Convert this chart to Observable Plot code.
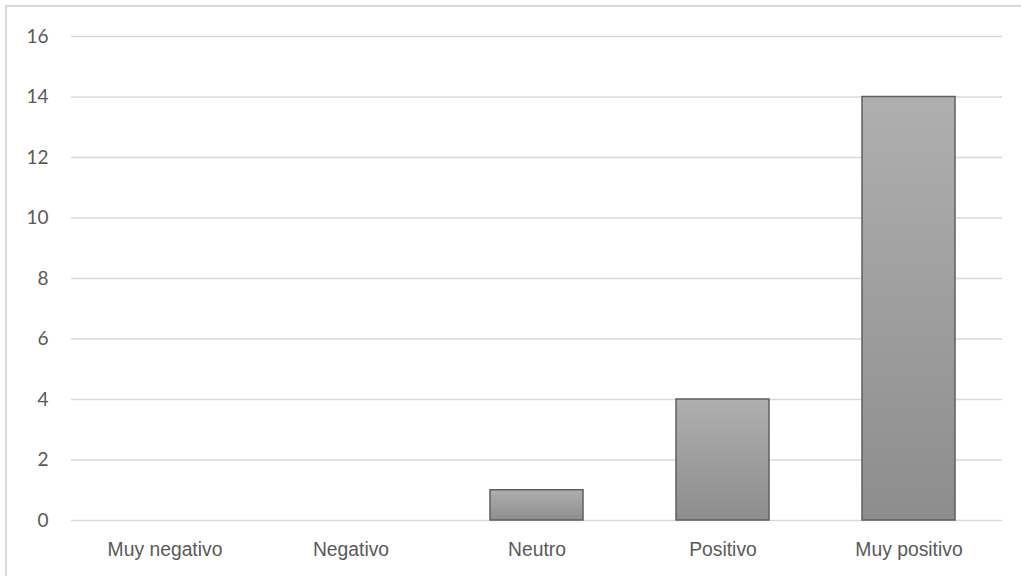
<!DOCTYPE html>
<html>
<head>
<meta charset="utf-8">
<script src="https://cdn.jsdelivr.net/npm/d3@7"></script>
<script src="https://cdn.jsdelivr.net/npm/@observablehq/plot@0.6"></script>
<style>
  html, body { margin: 0; padding: 0; background: #fff; overflow: hidden; }
  #wrap { position: relative; width: 1021px; height: 576px; }
  #frame {
    position: absolute; left: 5px; top: 5px; width: 1040px; height: 600px;
    border: 2px solid #d9d9d9; pointer-events: none; box-sizing: border-box;
  }
  #chart svg { display: block; }
  g[aria-label="x-axis tick label"] { font-family: "Liberation Sans", Arial, sans-serif; font-size: 21px; }
  g[aria-label="y-axis tick label"] { font-family: Lato, "Open Sans", sans-serif; font-size: 19px; }
</style>
</head>
<body>
<div id="wrap">
  <div id="chart"></div>
  <div id="frame"></div>
</div>
<script>
// Response counts per rating category
const categories = ["Muy negativo", "Negativo", "Neutro", "Positivo", "Muy positivo"];
const counts = [0, 0, 1, 4, 14];
const yTicks = [0, 2, 4, 6, 8, 10, 12, 14, 16];

const rows = categories.map((c, i) => ({category: c, count: counts[i]}));

// Vertical gradient used for the bar fill (lighter at the top)
const gradientDefs = () => {
  const defs = d3.create("svg:defs");
  const g = defs.append("linearGradient")
    .attr("id", "barGradient")
    .attr("x1", 0).attr("y1", 0).attr("x2", 0).attr("y2", 1);
  g.append("stop").attr("offset", "0%").attr("stop-color", "#afafaf");
  g.append("stop").attr("offset", "100%").attr("stop-color", "#8d8d8d");
  return defs.node();
};

const chart = Plot.plot({
  width: 1021,
  height: 576,
  marginLeft: 71,
  marginRight: 19,
  marginTop: 36,
  marginBottom: 56,
  x: {domain: categories, paddingInner: 0.5, paddingOuter: 0.25, label: null},
  y: {domain: [0, 16], label: null},
  marks: [
    gradientDefs,
    Plot.gridY(yTicks, {stroke: "#d9d9d9", strokeOpacity: 1, strokeWidth: 1.5}),
    Plot.barY(rows, {
      filter: d => d.count > 0,
      x: "category",
      y: "count",
      fill: "url(#barGradient)",
      stroke: "#5f5f5f",
      strokeWidth: 1.5
    }),
    Plot.axisY({
      ticks: yTicks,
      tickSize: 0,
      tickPadding: 23,
      fontSize: 19,
      fill: "#595959",
      label: null
    }),
    Plot.axisX({
      tickSize: 0,
      tickPadding: 21,
      fontSize: 21,
      fill: "#595959",
      label: null
    })
  ]
});

// Slightly condense the category labels horizontally
d3.select(chart)
  .selectAll("g[aria-label='x-axis tick label'] text")
  .each(function () {
    const t = this.getAttribute("transform") || "";
    this.setAttribute("transform", t + " scale(0.92,1)");
  });

document.getElementById("chart").appendChild(chart);
</script>
</body>
</html>
